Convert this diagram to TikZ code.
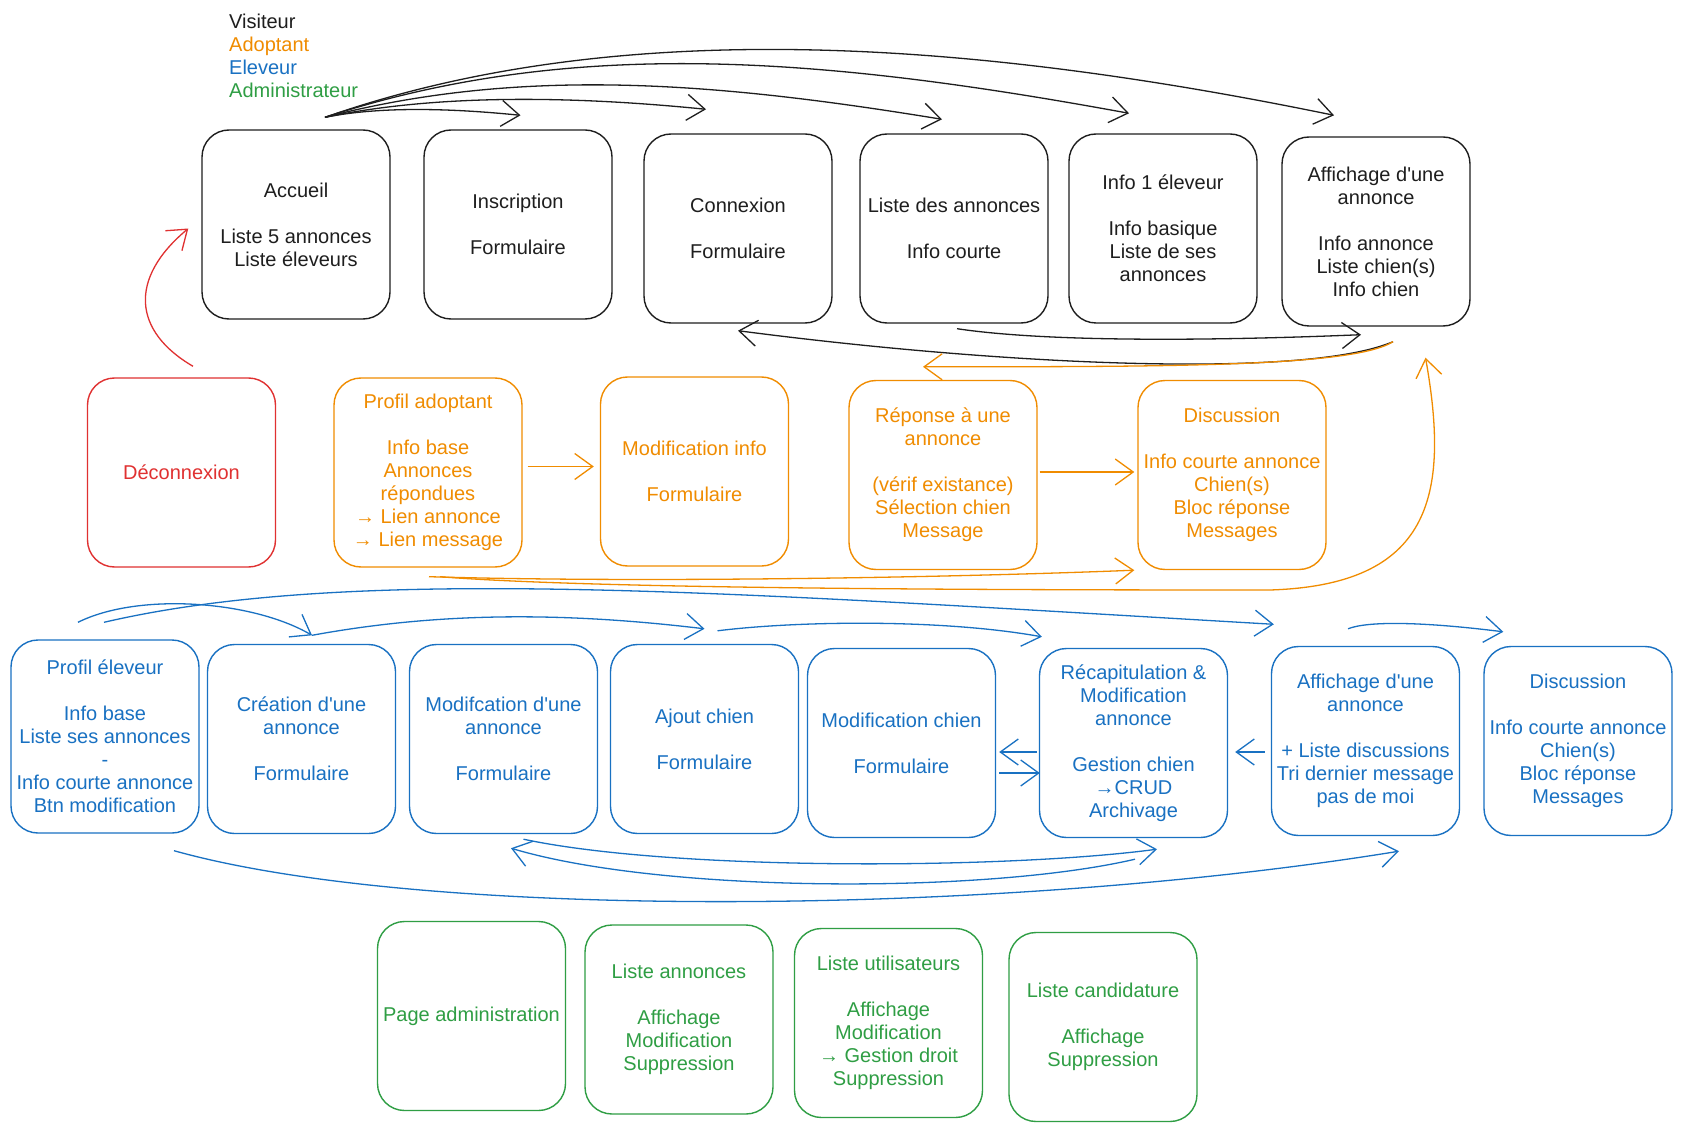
\documentclass[tikz,border=0pt]{standalone}
\usepackage{fontspec}
\setmainfont{Liberation Sans}
\usetikzlibrary{positioning,arrows.meta}

\definecolor{visitcol}{HTML}{1E1E1E}
\definecolor{adoptcol}{HTML}{F08C00}
\definecolor{elevcol}{HTML}{1971C2}
\definecolor{admincol}{HTML}{2F9E44}
\definecolor{decocol}{HTML}{E03131}

\tikzset{
  page/.style={draw, rounded corners=27pt, minimum width=188pt, minimum height=189pt,
    align=center, inner sep=2pt, line width=1.4pt},
  visiteur/.style={page, draw=visitcol, text=visitcol},
  adoptant/.style={page, draw=adoptcol, text=adoptcol},
  eleveur/.style={page, draw=elevcol, text=elevcol},
  admin/.style={page, draw=admincol, text=admincol},
  deco/.style={page, draw=decocol, text=decocol},
  lien/.style={->, line width=1.3pt},
}

\begin{document}
\begin{tikzpicture}[x=1pt,y=-1pt,on grid,font=\fontsize{20}{23}\selectfont,
  >={Straight Barb[length=18pt,width=26pt]}]
\fill[white] (0,0) rectangle (1683,1131);
\useasboundingbox (0,0) rectangle (1683,1131);

\node[anchor=north west, align=left, inner sep=0pt, text=visitcol] (legende) at (229,14)
  {Visiteur\\\textcolor{adoptcol}{Adoptant}\\\textcolor{elevcol}{Eleveur}\\\textcolor{admincol}{Administrateur}};

\node[visiteur] (accueil) at (296,224.5) {Accueil\\[23pt]Liste 5 annonces\\Liste éleveurs};
\node[visiteur] (inscription) [right=222pt of accueil] {Inscription\\[23pt]Formulaire};
\node[visiteur] (connexion) [right=220pt of inscription, yshift=-4pt] {Connexion\\[23pt]Formulaire};
\node[visiteur] (annonces) [right=216pt of connexion] {Liste des annonces\\[23pt]Info courte};
\node[visiteur] (eleveur) [right=209pt of annonces] {Info 1 éleveur\\[23pt]Info basique\\Liste de ses\\annonces};
\node[visiteur] (annonce) [right=213pt of eleveur, yshift=-3pt] {Affichage d\textquotesingle une\\annonce\\[23pt]Info annonce\\Liste chien(s)\\Info chien};

\node[deco] (deconnexion) at (181.5,472.5) {Déconnexion};
\node[adoptant] (profilA) [right=246.5pt of deconnexion] {Profil adoptant\\[23pt]Info base\\Annonces\\répondues\\→ Lien annonce\\→ Lien message};
\node[adoptant] (modifA) [right=266.5pt of profilA, yshift=1pt] {Modification info\\[23pt]Formulaire};
\node[adoptant] (reponse) [right=248.5pt of modifA, yshift=-3.5pt] {Réponse à une\\annonce\\[23pt](vérif existance)\\Sélection chien\\Message};
\node[adoptant] (discussionA) [right=289pt of reponse] {Discussion\\[23pt]Info courte annonce\\Chien(s)\\Bloc réponse\\Messages};

\node[eleveur, minimum height=193pt] (profilE) at (105,736.5) {Profil éleveur\\[23pt]Info base\\Liste ses annonces\\-\\Info courte annonce\\Btn modification};
\node[eleveur] (creation) [right=196.5pt of profilE, yshift=-2.5pt] {Création d\textquotesingle une\\annonce\\[23pt]Formulaire};
\node[eleveur] (modifE) [right=202pt of creation] {Modifcation d\textquotesingle une\\annonce\\[23pt]Formulaire};
\node[eleveur] (ajout) [right=201pt of modifE] {Ajout chien\\[23pt]Formulaire};
\node[eleveur] (modifchien) [right=197pt of ajout, yshift=-4pt] {Modification chien\\[23pt]Formulaire};
\node[eleveur] (recap) [right=232pt of modifchien] {Récapitulation \&\\Modification\\annonce\\[23pt]Gestion chien\\→CRUD\\Archivage};
\node[eleveur] (annonceE) [right=232pt of recap, yshift=2pt] {Affichage d\textquotesingle une\\annonce\\[23pt]+ Liste discussions\\Tri dernier message\\pas de moi};
\node[eleveur] (discussionE) [right=212.5pt of annonceE] {Discussion\\[23pt]Info courte annonce\\Chien(s)\\Bloc réponse\\Messages};

\node[admin] (pageadmin) at (471.5,1016) {Page administration};
\node[admin] (listeAnn) [right=207.5pt of pageadmin, yshift=-3.5pt] {Liste annonces\\[23pt]Affichage\\Modification\\Suppression};
\node[admin] (listeUtil) [right=209.5pt of listeAnn, yshift=-3.5pt] {Liste utilisateurs\\[23pt]Affichage\\Modification\\→ Gestion droit\\Suppression};
\node[admin] (listeCand) [right=214.5pt of listeUtil, yshift=-4pt] {Liste candidature\\[23pt]Affichage\\Suppression};

\draw[lien, visitcol] ([xshift=29pt,yshift=12pt]accueil.north) .. controls +(60,-12) and +(-60,-6) .. ([xshift=2.5pt,yshift=14pt]inscription.north);
\draw[lien, visitcol] ([xshift=29pt,yshift=12pt]accueil.north) .. controls +(120,-25) and +(-120,-12) .. ([xshift=-32pt,yshift=24pt]connexion.north);
\draw[lien, visitcol] ([xshift=29pt,yshift=12pt]accueil.north) .. controls +(200,-52) and +(-220,-36) .. ([xshift=-12pt,yshift=14pt]annonces.north);
\draw[lien, visitcol] ([xshift=29pt,yshift=12pt]accueil.north) .. controls +(250,-82) and +(-300,-55) .. ([xshift=-34pt,yshift=20pt]eleveur.north);
\draw[lien, visitcol] ([xshift=29pt,yshift=12pt]accueil.north) .. controls +(300,-105) and +(-350,-72) .. ([xshift=-42pt,yshift=21pt]annonce.north);
\draw[lien, visitcol] ([xshift=3pt,yshift=-5pt]annonces.south) .. controls +(100,15) and +(-120,5) .. ([xshift=-15pt,yshift=-8pt]annonce.south);
\draw[lien, visitcol] ([xshift=17pt,yshift=-15pt]annonce.south) .. controls +(-90,38) and +(260,34) .. ([yshift=-7pt]connexion.south);

\draw[lien, decocol] ([xshift=11.5pt,yshift=11pt]deconnexion.north) .. controls +(-60,-35) and +(-60,50) .. ([xshift=-13pt,yshift=-4pt]accueil.west);

\draw[lien, adoptcol] ([xshift=17pt,yshift=-15pt]annonce.south) .. controls +(-40,25) and +(250,0) .. ([xshift=-20pt,yshift=13pt]reponse.north);
\draw[lien, adoptcol] ([xshift=5pt,yshift=6pt]profilA.east) -- ([xshift=-6pt,yshift=5pt]modifA.west);
\draw[lien, adoptcol] ([xshift=2pt,yshift=3pt]reponse.east) -- ([xshift=-3pt,yshift=3pt]discussionA.west);
\draw[lien, adoptcol] ([xshift=1pt,yshift=-9pt]profilA.south) .. controls +(200,6) and +(-200,8) .. ([xshift=-3pt]discussionA.south west);
\draw[lien, adoptcol] ([xshift=12pt,yshift=-9pt]profilA.south) .. controls +(150,12) and +(-300,0) .. (1270,590)
  .. controls +(160,-5) and +(25,140) .. ([xshift=49.5pt,yshift=-31pt]annonce.south);

\draw[lien, elevcol] ([xshift=-27pt,yshift=17pt]profilE.north) .. controls +(60,-30) and +(-60,-35) .. ([xshift=10.5pt,yshift=8.5pt]creation.north);
\draw[lien, elevcol] ([xshift=-1pt,yshift=17pt]profilE.north) .. controls +(250,-58) and +(-550,-32) .. ([xshift=3pt,yshift=21.5pt]annonceE.north west);
\draw[lien, elevcol] ([xshift=10.5pt,yshift=8.5pt]creation.north) .. controls +(120,-22) and +(-150,-18) .. ([yshift=15pt]ajout.north);
\draw[lien, elevcol] ([xshift=13pt,yshift=13pt]ajout.north) .. controls +(80,-10) and +(-100,-18) .. ([xshift=3pt,yshift=11pt]recap.north west);
\draw[lien, elevcol] ([xshift=-17.5pt,yshift=17pt]annonceE.north) .. controls +(20,-8) and +(-80,-10) .. ([xshift=20pt,yshift=14pt]discussionE.north west);
\draw[lien, elevcol] ([xshift=-2pt,yshift=-9pt]recap.west) -- ([xshift=3pt,yshift=-9pt]modifchien.east);
\draw[lien, elevcol] ([xshift=3pt,yshift=-30pt]modifchien.east) -- ([xshift=1pt,yshift=-30pt]recap.west);
\draw[lien, elevcol] ([xshift=-6pt,yshift=-11pt]annonceE.west) -- ([xshift=7pt,yshift=-9pt]recap.east);
\draw[lien, elevcol] ([xshift=20pt,yshift=-5pt]modifE.south) .. controls +(150,32) and +(-150,20) .. ([xshift=23.5pt,yshift=-11pt]recap.south);
\draw[lien, elevcol] ([xshift=1.5pt,yshift=-21pt]recap.south) .. controls +(-150,35) and +(150,45) .. ([xshift=7.5pt,yshift=-14pt]modifE.south);
\draw[lien, elevcol] ([xshift=69pt,yshift=-17pt]profilE.south) .. controls +(250,70) and +(-400,65) .. ([xshift=33.5pt,yshift=-15pt]annonceE.south);
\end{tikzpicture}
\end{document}
